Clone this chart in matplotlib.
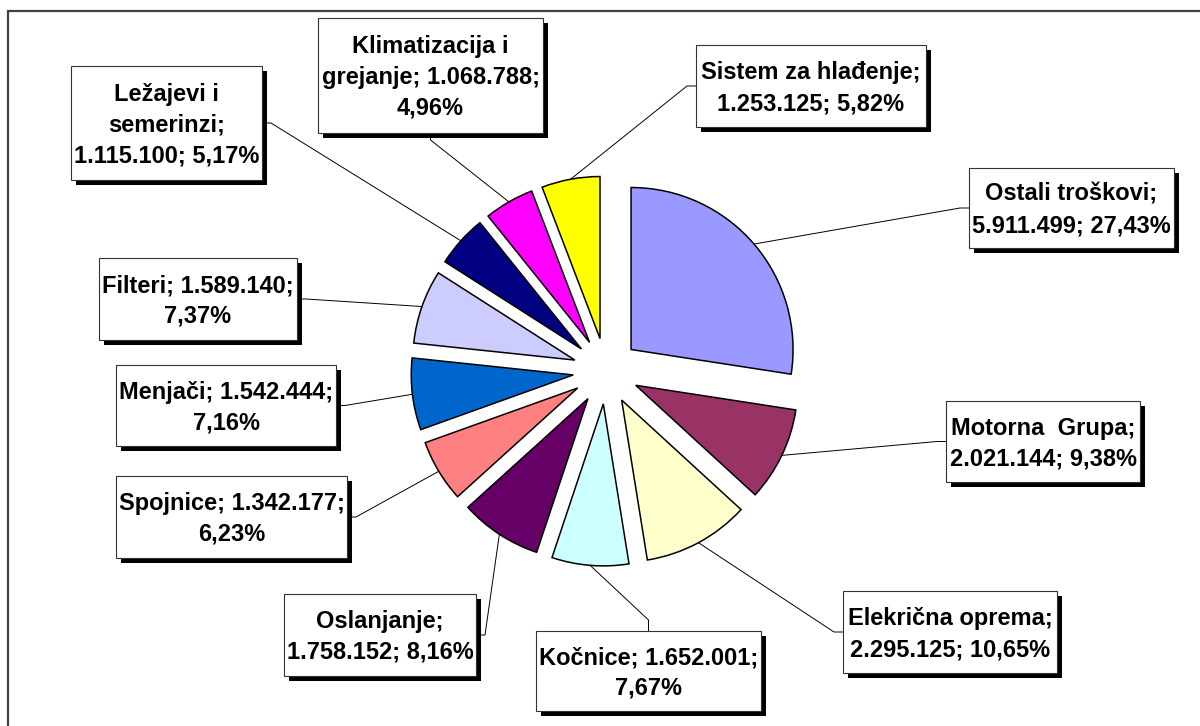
import numpy as np
import matplotlib.pyplot as plt
from matplotlib.patches import Rectangle

# slices, clockwise from 12 o'clock
names = ['Ostali troškovi', 'Motorna  Grupa', 'Elekrična oprema', 'Kočnice',
         'Oslanjanje', 'Spojnice', 'Menjači', 'Filteri', 'Ležajevi i semerinzi',
         'Klimatizacija i grejanje', 'Sistem za hlađenje']
values = [5911499, 2021144, 2295125, 1652001, 1758152, 1342177,
          1542444, 1589140, 1115100, 1068788, 1253125]
colors = ['#9999FF', '#993366', '#FFFFCC', '#CCFFFF', '#660066', '#FF8080',
          '#0066CC', '#CCCCFF', '#000080', '#FF00FF', '#FFFF00']
label_lines = [
    ['Ostali troškovi;', '5.911.499; 27,43%'],
    ['Motorna  Grupa;', '2.021.144; 9,38%'],
    ['Elekrična oprema;', '2.295.125; 10,65%'],
    ['Kočnice; 1.652.001;', '7,67%'],
    ['Oslanjanje;', '1.758.152; 8,16%'],
    ['Spojnice; 1.342.177;', '6,23%'],
    ['Menjači; 1.542.444;', '7,16%'],
    ['Filteri; 1.589.140;', '7,37%'],
    ['Ležajevi i', 'semerinzi;', '1.115.100; 5,17%'],
    ['Klimatizacija i', 'grejanje; 1.068.788;', '4,96%'],
    ['Sistem za hlađenje;', '1.253.125; 5,82%'],
]

plt.rcParams['font.family'] = ['Liberation Sans', 'DejaVu Sans']

W, H = 1200, 726
# label boxes in picture pixels: left, top, right, bottom, side of leader
boxes = [(969, 168, 1174, 248, 'L'), (946, 401, 1140, 482, 'L'),
         (843, 591, 1057, 673, 'L'), (536, 631, 761, 711, 'T'),
         (284, 594, 476, 676, 'R'), (116, 476, 347, 558, 'R'),
         (116, 365, 336, 446, 'R'), (99, 258, 297, 340, 'R'),
         (71, 66, 262, 180, 'R'), (318, 18, 543, 133, 'B'),
         (696, 45, 926, 127, 'L')]

fig = plt.figure(figsize=(12, 7.26), dpi=100)
ax = fig.add_axes([0, 0, 1, 1])

# pie explode is in data units here (pixels)
wedges, _ = ax.pie(values, colors=colors, startangle=90, counterclock=False,
                   explode=[33] * len(values), center=(606, H - 371), radius=162,
                   wedgeprops=dict(edgecolor='black', linewidth=1.1))
ax.set_xlim(0, W)
ax.set_ylim(0, H)
ax.set_aspect('equal')
ax.axis('off')

# outer frame (only top and left are visible)
ax.add_patch(Rectangle((8, -30), 1250, H - 11 + 30, fill=False,
                       edgecolor='#404040', linewidth=1.6, clip_on=False))

for w, lines, (l, t, rr, b, side) in zip(wedges, label_lines, boxes):
    # leader line from the middle of the arc to the box
    a = np.radians((w.theta1 + w.theta2) / 2)
    px = w.center[0] + w.r * np.cos(a)
    py = w.center[1] + w.r * np.sin(a)
    if side == 'L':
        ax_, ay_ = l, (t + b) / 2
        ex, ey = l - 9, ay_
    elif side == 'R':
        ax_, ay_ = rr, (t + b) / 2
        ex, ey = rr + 9, ay_
    elif side == 'T':
        ax_, ay_ = (l + rr) / 2, t
        ex, ey = ax_, t - 11
    else:
        ax_, ay_ = (l + rr) / 2, b
        ex, ey = ax_, b + 7
    ax.plot([px, ex, ax_], [py, H - ey, H - ay_], color='black', lw=0.7,
            solid_joinstyle='miter', zorder=3)

    # shadow and box
    ax.add_patch(Rectangle((l + 5, H - b - 5), rr - l, b - t, facecolor='black',
                           edgecolor='none', zorder=4))
    ax.add_patch(Rectangle((l, H - b), rr - l, b - t, facecolor='white',
                           edgecolor='#333333', linewidth=0.8, zorder=5))
    cxb = (l + rr) / 2
    cyb = (t + b) / 2
    n = len(lines)
    for i, s in enumerate(lines):
        base = cyb + (i - (n - 1) / 2) * 31 + 8.5
        ax.text(cxb, H - base, s, ha='center', va='baseline', fontsize=17,
                fontweight='bold', color='black', zorder=6)

fig.savefig('out.png', dpi=100)
